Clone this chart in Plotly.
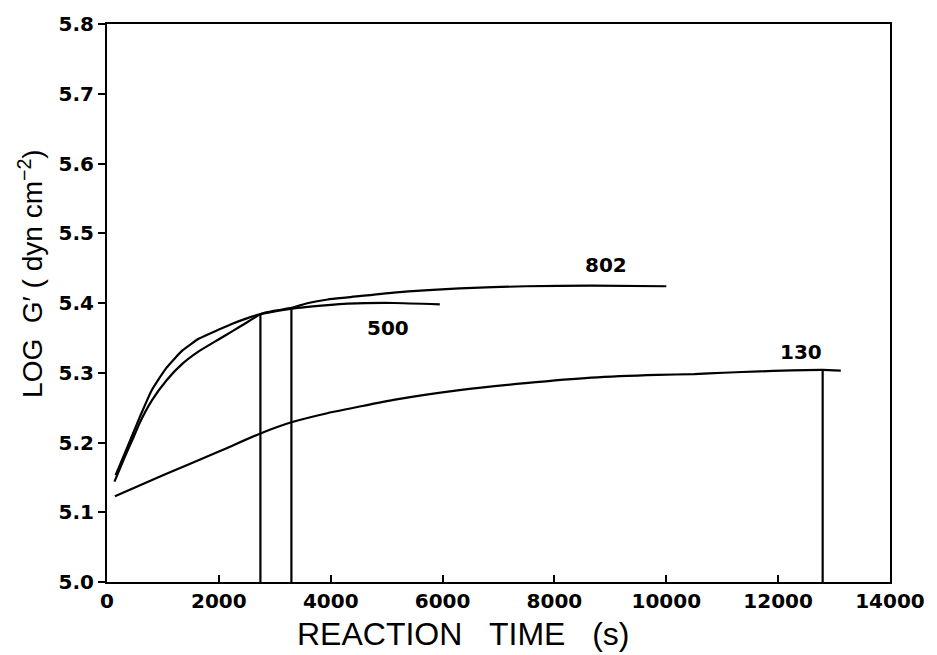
import plotly.graph_objects as go

# ---- data ----
t_500 = [154, 300, 450, 584, 800, 1062, 1350, 1646, 2000, 2230, 2500, 2743, 3000, 3300, 3947, 4301, 5127, 5950]
g_500 = [5.153, 5.181, 5.210, 5.236, 5.275, 5.307, 5.332, 5.349, 5.362, 5.370, 5.378, 5.384, 5.388, 5.392, 5.397, 5.399, 5.400, 5.398]

t_802 = [134, 300, 450, 584, 800, 1062, 1350, 1646, 2000, 2230, 2500, 2743, 3000, 3300, 3600, 3947, 4301, 5127, 6305, 7487, 8667, 10000]
g_802 = [5.144, 5.176, 5.203, 5.228, 5.260, 5.289, 5.313, 5.331, 5.348, 5.359, 5.372, 5.384, 5.389, 5.393, 5.400, 5.405, 5.408, 5.415, 5.421, 5.424, 5.425, 5.424]

t_130 = [142, 1000, 2000, 2743, 3297, 3938, 4301, 5123, 6302, 7482, 8662, 9843, 10496, 11023, 11676, 12796, 13120]
g_130 = [5.123, 5.153, 5.187, 5.213, 5.229, 5.242, 5.248, 5.261, 5.275, 5.285, 5.293, 5.297, 5.298, 5.300, 5.302, 5.304, 5.303]

marker_times = [2743, 3297, 12796]
marker_tops = [5.384, 5.392, 5.304]
y_floor = 5.0

curve_labels = ["802", "500", "130"]
label_x = [8925, 5018, 12410]
label_y = [5.454, 5.364, 5.330]

x_ticks = [0, 2000, 4000, 6000, 8000, 10000, 12000, 14000]
y_ticks = [5.0, 5.1, 5.2, 5.3, 5.4, 5.5, 5.6, 5.7, 5.8]

x_title = "REACTION\u00a0\u00a0\u00a0TIME\u00a0\u00a0\u00a0(s)"
y_title = "LOG\u00a0\u00a0G\u2032\u00a0(\u00a0dyn\u00a0cm<sup>\u22122</sup>)"

# ---- figure ----
L, R, T, B = 107, 39, 22, 73
W, H = 937, 655
pw, ph = W - L - R, H - T - B

fig = go.Figure()
line_style = dict(color="black", width=2.2)
for tx, gy in [(t_500, g_500), (t_802, g_802), (t_130, g_130)]:
    fig.add_trace(go.Scatter(x=tx, y=gy, mode="lines", line=dict(**line_style, shape="spline", smoothing=0.5),
                             showlegend=False, hoverinfo="skip"))
for tm, top in zip(marker_times, marker_tops):
    fig.add_trace(go.Scatter(x=[tm, tm], y=[y_floor, top], mode="lines", line=line_style,
                             showlegend=False, hoverinfo="skip"))

tick_font = dict(family="DejaVu Sans", size=20, color="black", weight="bold")
for txt, lx, ly in zip(curve_labels, label_x, label_y):
    fig.add_annotation(x=lx, y=ly, text=txt, showarrow=False, font=tick_font,
                       xanchor="center", yanchor="middle")

fig.add_annotation(xref="paper", yref="paper", x=(467 - L) / pw, y=-(634 - (T + ph)) / ph,
                   text=x_title, showarrow=False, xanchor="center", yanchor="middle",
                   font=dict(family="Liberation Sans", size=32, color="black"))
fig.add_annotation(xref="paper", yref="paper", x=-(L - 30) / pw, y=(T + ph - 272) / ph,
                   text=y_title, showarrow=False, xanchor="center", yanchor="middle", textangle=-90,
                   font=dict(family="Liberation Sans", size=28, color="black"))

axis_common = dict(showgrid=False, zeroline=False, showline=True, linecolor="black", linewidth=2,
                   mirror=True, ticks="outside", tickcolor="black", tickwidth=2, ticklen=7,
                   tickfont=tick_font)
fig.update_xaxes(range=[0, 14000], tickvals=x_ticks, ticktext=[str(v) for v in x_ticks],
                 **{**axis_common, "ticks": "inside"})
fig.update_yaxes(range=[5.0, 5.8], tickvals=y_ticks, ticktext=[f"{v:.1f}" for v in y_ticks],
                 **axis_common)

fig.update_layout(width=W, height=H, margin=dict(l=L, r=R, t=T, b=B),
                  plot_bgcolor="white", paper_bgcolor="white")

post = (
    "document.documentElement.style.overflow='hidden';"
    "document.body.style.margin='0';document.body.style.overflow='hidden';"
    "var gd=document.getElementById('{plot_id}');"
    "gd.style.overflow='hidden';"
    "if(gd.parentElement){gd.parentElement.style.overflow='hidden';}"
)
fig.write_html("out.html", config={"displayModeBar": False}, post_script=post)
